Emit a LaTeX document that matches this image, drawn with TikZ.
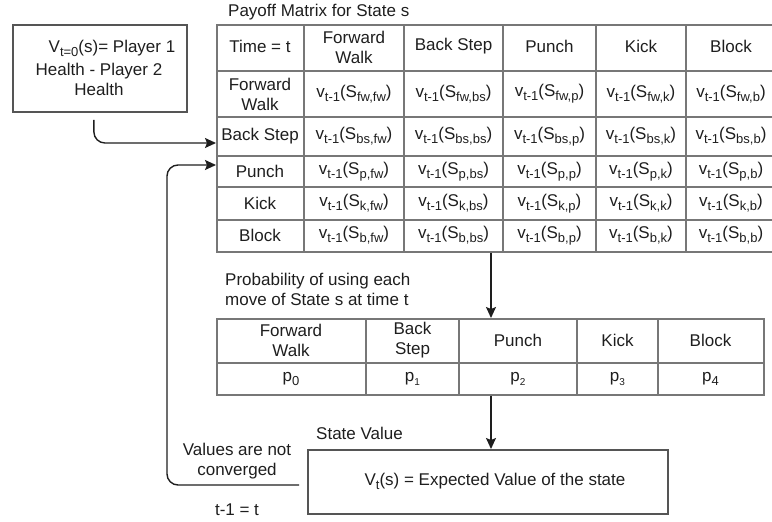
\documentclass[tikz,border=0pt]{standalone}
\usepackage{fontspec}
\setmainfont{Liberation Sans}
\usetikzlibrary{arrows.meta}

\definecolor{ink}{HTML}{1E1E1E}
\definecolor{gridline}{HTML}{777777}
\definecolor{boxline}{HTML}{555555}

% lowered subscripts as used in the cells
\newcommand\lsub[1]{\raisebox{-4pt}{\fontsize{13}{13}\selectfont #1}}
\newcommand\tsub[1]{\raisebox{-4pt}{\fontsize{10}{10}\selectfont #1}}
\newcommand\val[1]{v\lsub{t-1}(S\lsub{#1})}

\begin{document}
\begin{tikzpicture}[x=1pt,y=-1pt,
  txt/.style={inner sep=0pt, text=ink, font=\fontsize{17}{20}\selectfont},
  frame/.style={draw=boxline, line width=1.8pt, inner sep=0pt, anchor=north west},
  grid/.style={draw=gridline, line width=1.6pt},
  link/.style={draw=ink, line width=1.4pt, rounded corners=11pt,
    -{Stealth[length=11pt,width=10pt,inset=2pt]}}]
\useasboundingbox (0,0) rectangle (772,522);

% ---- initial value box ----
\node[frame, minimum width=174pt, minimum height=87pt] (init) at (12,24) {};
\node[txt, align=center] (init-text) at (99,68)
  {\hspace*{26pt}V\lsub{t=0}(s)= Player 1\\[3pt]Health - Player 2\\Health};

% ---- payoff matrix ----
\node[txt, anchor=west] (title) at (228,12) {Payoff Matrix for State s};
\node[grid, inner sep=0pt, anchor=north west, minimum width=560pt, minimum height=227pt] (payoff) at (216,24) {};
\foreach \x in {304,404,503,596,686} \draw[grid] (\x,24) -- (\x,251);
\foreach \y in {71,117,156,187,220} \draw[grid] (216,\y) -- (776,\y);

\node[txt] (h-time) at (260,46) {Time = t};
\node[txt, align=center] (h-fw) at (354,47) {Forward\\Walk};
\node[txt] (h-bs) at (453.5,46) {Back Step};
\node[txt] (h-p) at (549.5,46) {Punch};
\node[txt] (h-k) at (641,46) {Kick};
\node[txt] (h-b) at (731,46) {Block};

\node[txt, align=center] (r-fw) at (260,94) {Forward\\Walk};
\node[txt] (r-bs) at (260,136.5) {Back Step};
\node[txt] (r-p) at (260,171.5) {Punch};
\node[txt] (r-k) at (260,203.5) {Kick};
\node[txt] (r-b) at (260,235.5) {Block};

\foreach \r/\y in {fw/94, bs/136.5, p/171.5, k/203.5, b/235.5}
  \foreach \c/\x in {fw/354, bs/453.5, p/549.5, k/641, b/731}
    \node[txt] (v-\r-\c) at (\x,\y) {\val{\r,\c}};

% ---- move probabilities ----
\node[txt, anchor=west, align=left] (prob-label) at (225,289.5)
  {Probability of using each\\move of State s at time t};
\node[grid, inner sep=0pt, anchor=north west, minimum width=547pt, minimum height=76pt] (prob) at (216,318) {};
\foreach \x in {366,459,577,658} \draw[grid] (\x,318) -- (\x,394);
\draw[grid] (216,363) -- (763,363);

\node[txt, align=center] (m-fw) at (291,340.5) {Forward\\Walk};
\node[txt, align=center] (m-bs) at (412.5,340.5) {Back\\Step};
\node[txt] (m-p) at (518,340.5) {Punch};
\node[txt] (m-k) at (617.5,340.5) {Kick};
\node[txt] (m-b) at (710.5,340.5) {Block};

\node[txt] (p0) at (291,378.5) {p\lsub{0}};
\node[txt] (p1) at (412.5,378.5) {p\tsub{1}};
\node[txt] (p2) at (518,378.5) {p\tsub{2}};
\node[txt] (p3) at (617.5,378.5) {p\tsub{3}};
\node[txt] (p4) at (710.5,378.5) {p\lsub{4}};

% ---- state value ----
\node[txt, anchor=west] (state-label) at (316,433) {State Value};
\node[frame, minimum width=360pt, minimum height=64pt] (state) at (307,449) {};
\node[txt] (state-text) at (495,481) {V\lsub{t}(s) = Expected Value of the state};

\node[txt, align=center] (loop-label) at (237,461.5) {Values are not\\converged};
\node[txt] (update-label) at (237,510) {t-1 = t};

% ---- connectors ----
\draw[link, shorten <=7pt] ([xshift=-6pt]init.south) |- (payoff.west |- 0,143);
\draw[link] (payoff.south -| 491,0) -- (prob.north -| 491,0);
\draw[link] (prob.south -| 491,0) -- (state.north -| 491,0);
\draw[link, shorten <=8pt] (state.west |- 0,485) -- (167,485) -- (167,165) -- (payoff.west |- 0,165);
\end{tikzpicture}
\end{document}
